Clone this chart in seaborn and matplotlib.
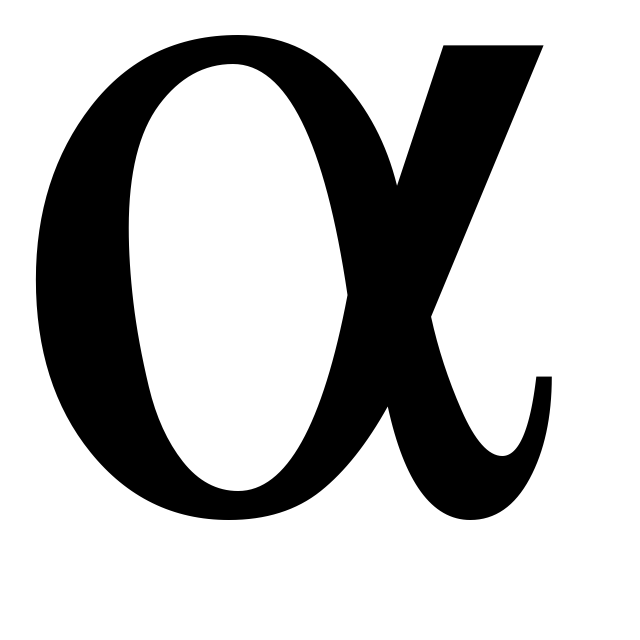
import matplotlib
matplotlib.use("Agg")
import matplotlib.pyplot as plt
import seaborn as sns
from matplotlib.font_manager import FontProperties
from matplotlib.textpath import TextPath

# the single glyph shown in the reference (upright Times-like alpha)
glyph = r"$\mathrm{\alpha}$"

# ink box of the glyph in the 640x640 picture (pixels, from top-left)
ink_left, ink_top, ink_right, ink_bottom = 35, 35, 610, 520

sns.set_style("white")
plt.rcParams['mathtext.fontset'] = 'stix'
plt.rcParams['font.family'] = ['STIXGeneral', 'DejaVu Serif']

W = H = 640
dpi = 100
fig = plt.figure(figsize=(W / dpi, H / dpi), dpi=dpi)
fig.patch.set_facecolor("white")

fp = FontProperties(family=['STIXGeneral', 'DejaVu Serif'])

# measure the glyph ink at a reference size, then stretch to the target box
tp = TextPath((0, 0), glyph, size=100, prop=fp)
ext = tp.get_extents()
target_h_pt = (ink_bottom - ink_top) * 72 / dpi
scale = target_h_pt / ext.height
fontsize = 100 * scale

x_px = ink_left - ext.x0 * scale * dpi / 72
base_px = (H - ink_bottom) - ext.y0 * scale * dpi / 72

fig.text(x_px / W, base_px / H, glyph, fontproperties=fp, fontsize=fontsize,
         ha='left', va='baseline', color='black')

fig.savefig("out.png", dpi=dpi, facecolor="white")
